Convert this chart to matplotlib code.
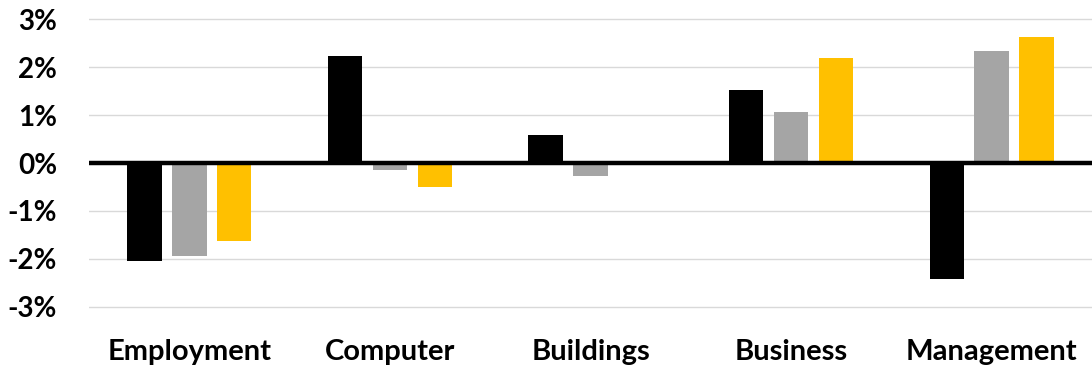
import numpy as np
import matplotlib.pyplot as plt

# Data (percent change)
categories = ['Employment', 'Computer', 'Buildings', 'Business', 'Management']
series_black = [-2.05, 2.24, 0.58, 1.52, -2.42]
series_gray = [-1.95, -0.15, -0.27, 1.07, 2.35]
series_gold = [-1.62, -0.50, 0.0, 2.20, 2.63]
yticks = [-3, -2, -1, 0, 1, 2, 3]

colors = ['#000000', '#a5a5a5', '#ffc000']

plt.rcParams['font.family'] = ['Lato', 'DejaVu Sans']

fig = plt.figure(figsize=(10.92, 3.65), dpi=100)
ax = fig.add_axes([89 / 1092, 0.1405, 1003 / 1092, 0.8258])

x = np.arange(len(categories))
width = 0.172
step = 0.224
for i, (vals, col) in enumerate(zip([series_black, series_gray, series_gold], colors)):
    ax.bar(x + (i - 1) * step, vals, width, color=col, zorder=2)

# thick zero line on top of the bars
ax.axhline(0, color='black', linewidth=3.2, zorder=3)

ax.set_xlim(-0.5, len(categories) - 0.5)
ax.set_ylim(-3.15, 3.15)
ax.set_yticks(yticks)
ax.set_yticklabels([f'{t}%' for t in yticks], fontsize=20, fontweight='bold')
ax.set_xticks(x)
ax.set_xticklabels(categories, fontsize=21, fontweight='bold')
ax.tick_params(axis='both', length=0)
ax.tick_params(axis='y', pad=23)
ax.tick_params(axis='x', pad=18)
ax.yaxis.grid(True, color='#d9d9d9', linewidth=1.0, zorder=0)
ax.set_axisbelow(True)
for s in ax.spines.values():
    s.set_visible(False)

fig.savefig('out.png', dpi=100)
